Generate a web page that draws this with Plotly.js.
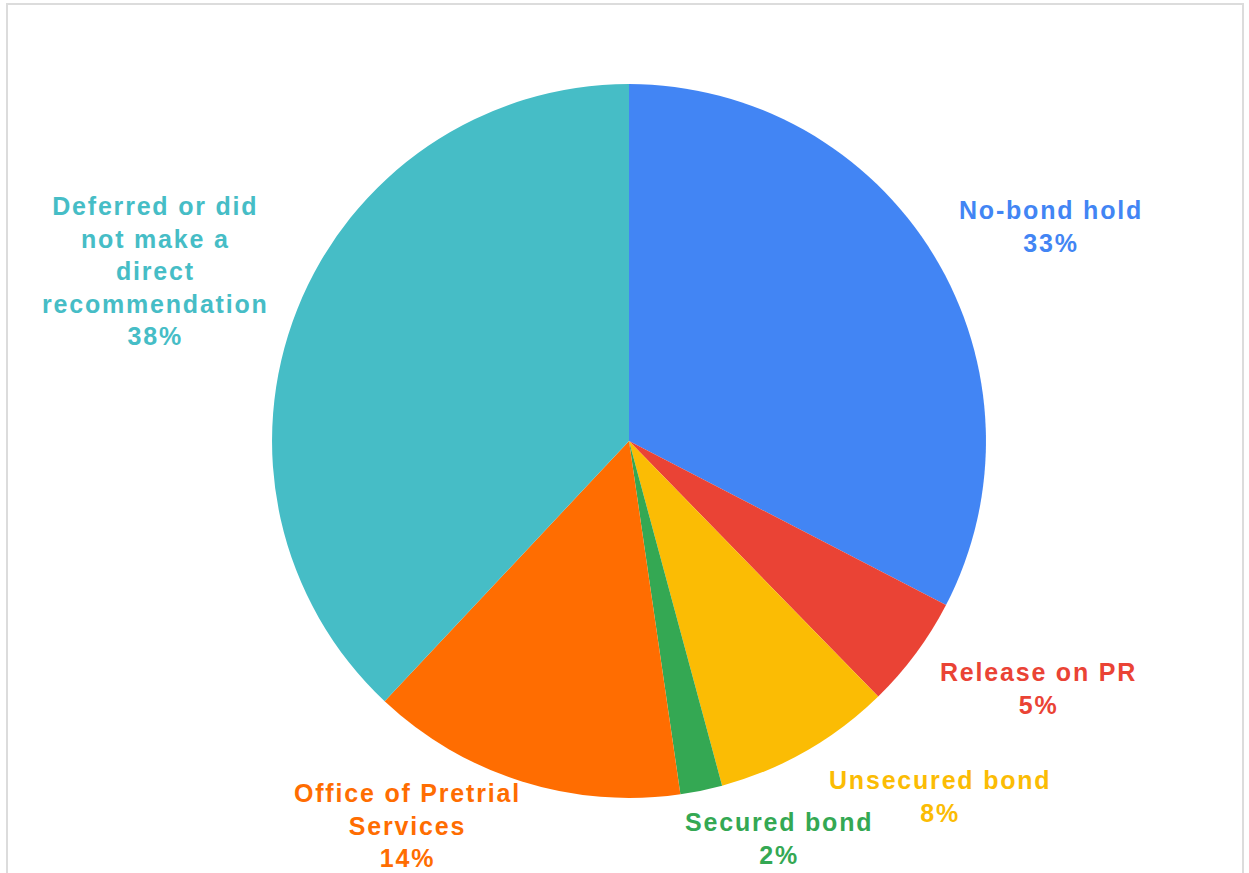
<!DOCTYPE html>
<html>
<head>
<meta charset="utf-8">
<script src="https://cdn.plot.ly/plotly-3.0.1.min.js"></script>
<style>
  html, body { margin: 0; padding: 0; background: #fff; }
  #wrap { position: relative; width: 1249px; height: 873px; }
  #chart { width: 1249px; height: 873px; }
  #frame { position: absolute; left: 6px; top: 3px; width: 1238px; height: 880px; border: 2px solid #dcdcdc; pointer-events: none; box-sizing: border-box; }
  .annotation-text { letter-spacing: 1.8px; }
</style>
</head>
<body>
<div id="wrap">
  <div id="chart"></div>
  <div id="frame"></div>
</div>
<script>
const categories = ["No-bond hold", "Release on PR", "Unsecured bond", "Secured bond", "Office of Pretrial<br>Services", "Deferred or did<br>not make a<br>direct<br>recommendation"];
const values = [32.6, 5.1, 8.1, 1.9, 14.3, 38.0];
const colors = ["#4285F4", "#EA4335", "#FBBC04", "#34A853", "#FF6D01", "#46BDC6"];
const labelX = [1051, 1038, 940, 779, 407, 155];
const labelY = [227, 688, 796, 838, 825, 271];

const total = values.reduce((a, b) => a + b, 0);
const W = 1249, H = 873;

const trace = {
  type: "pie",
  labels: categories,
  values: values,
  sort: false,
  direction: "clockwise",
  rotation: 0,
  marker: { colors: colors, line: { width: 0 } },
  textinfo: "none",
  hoverinfo: "label+percent",
  showlegend: false,
  domain: { x: [0.2178, 0.7894], y: [0.0859, 0.9037] }
};

const annotations = categories.map((c, i) => ({
  xref: "paper", yref: "paper",
  x: labelX[i] / W, y: 1 - labelY[i] / H,
  xanchor: "center", yanchor: "middle",
  text: c + "<br>" + Math.round(values[i] / total * 100) + "%",
  showarrow: false,
  align: "center",
  font: { family: "Liberation Sans, Arial, sans-serif", size: 25, color: colors[i], weight: "bold" }
}));

const layout = {
  width: W, height: H,
  margin: { l: 0, r: 0, t: 0, b: 0 },
  paper_bgcolor: "#ffffff",
  annotations: annotations
};

Plotly.newPlot("chart", [trace], layout, { displayModeBar: false, staticPlot: true });
</script>
</body>
</html>
